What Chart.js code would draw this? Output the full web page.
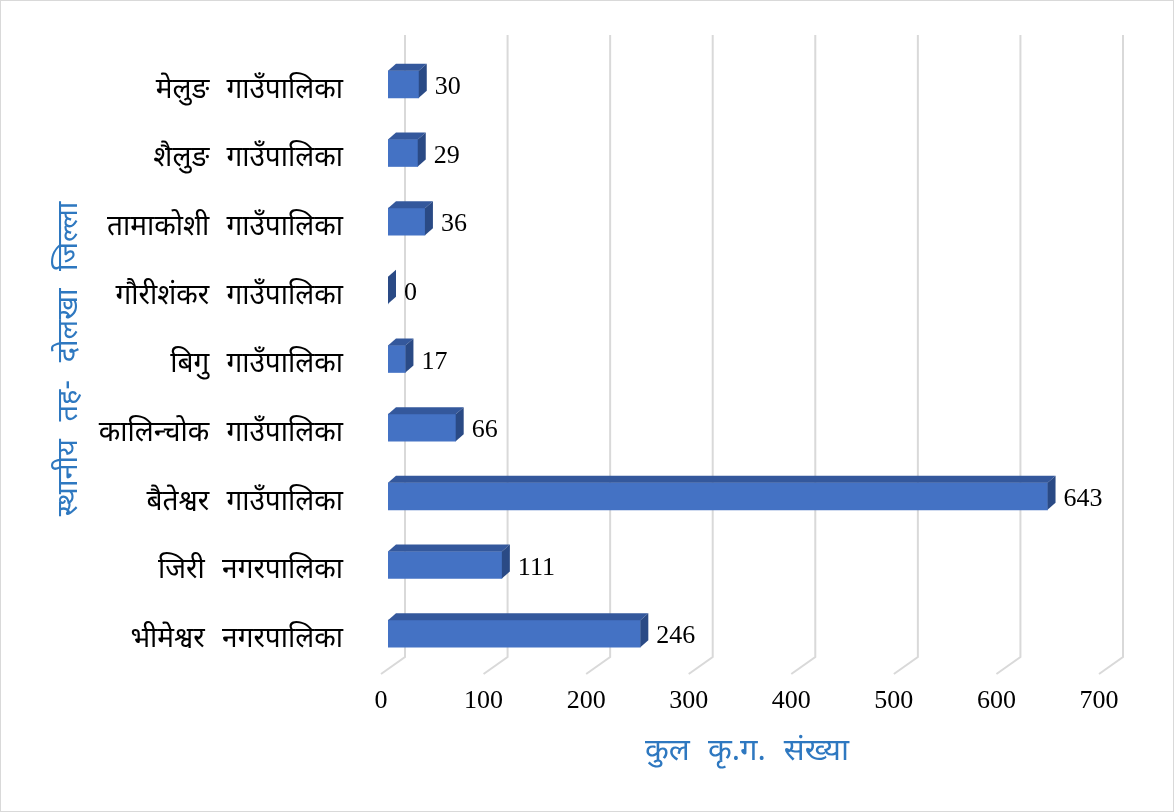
<!DOCTYPE html>
<html lang="ne">
<head>
<meta charset="utf-8">
<title>दोलखा जिल्ला - कुल कृ.ग. संख्या</title>
<script src="https://cdn.jsdelivr.net/npm/chart.js@4.4.1/dist/chart.umd.min.js"></script>
<style>
  html, body { margin: 0; padding: 0; background: #fff; }
  #wrap { position: relative; width: 1174px; height: 812px; }
</style>
</head>
<body>
<div id="wrap"><canvas id="chart"></canvas></div>
<script>
// data, top to bottom as in the picture
const categories = [
  'मेलुङ गाउँपालिका',
  'शैलुङ गाउँपालिका',
  'तामाकोशी गाउँपालिका',
  'गौरीशंकर गाउँपालिका',
  'बिगु गाउँपालिका',
  'कालिन्चोक गाउँपालिका',
  'बैतेश्वर गाउँपालिका',
  'जिरी नगरपालिका',
  'भीमेश्वर नगरपालिका',
];
const values = [30, 29, 36, 0, 17, 66, 643, 111, 246];
const xTicks = [0, 100, 200, 300, 400, 500, 600, 700];

const xTitle = 'कुल कृ.ग. संख्या';
const yTitle = 'स्थानीय तह- दोलखा जिल्ला';

const DEVA = "'Noto Sans Devanagari', 'Lohit Devanagari', 'Noto Sans', sans-serif";
const SERIF = "'Liberation Serif', 'Times New Roman', serif";
const TITLE_BLUE = '#2e78c0';
const FRONT = '#4472c4';
const TOP = '#34589c';
const SIDE = '#2a4a85';
const GRID = '#d9d9d9';
const DEPTH = { dx: 8, dy: 7 };

// white card with thin grey border; wider word gaps like the original font
const background = {
  id: 'background',
  beforeDraw(chart) {
    const { ctx, width, height } = chart;
    ctx.wordSpacing = '10px';
    ctx.save();
    ctx.fillStyle = '#fff';
    ctx.fillRect(0, 0, width, height);
    ctx.strokeStyle = '#d9d9d9';
    ctx.lineWidth = 1;
    ctx.strokeRect(0.5, 0.5, width - 1, height - 1);
    ctx.restore();
  }
};

// 3d-ish gridlines: back wall line + floor diagonal
const grid3d = {
  id: 'grid3d',
  beforeDatasetsDraw(chart) {
    const { ctx, scales: { x } } = chart;
    ctx.save();
    ctx.strokeStyle = GRID;
    ctx.lineWidth = 2;
    xTicks.forEach(v => {
      const px = x.getPixelForValue(v);
      ctx.beginPath();
      ctx.moveTo(px + 17, 35);
      ctx.lineTo(px + 17, 657);
      ctx.lineTo(px - 7, 674);
      ctx.stroke();
    });
    ctx.restore();
  }
};

// top + side faces of each bar, then the value label
const bars3d = {
  id: 'bars3d',
  afterDatasetsDraw(chart) {
    const { ctx } = chart;
    const meta = chart.getDatasetMeta(0);
    const { dx, dy } = DEPTH;
    ctx.save();
    meta.data.forEach((bar, i) => {
      const { x, y, base, height } = bar.getProps(['x', 'y', 'base', 'height'], true);
      const top = y - height / 2;
      const bottom = y + height / 2;

      ctx.fillStyle = TOP;
      ctx.beginPath();
      ctx.moveTo(base, top);
      ctx.lineTo(base + dx, top - dy);
      ctx.lineTo(x + dx, top - dy);
      ctx.lineTo(x, top);
      ctx.closePath();
      ctx.fill();

      ctx.fillStyle = SIDE;
      ctx.beginPath();
      ctx.moveTo(x, top);
      ctx.lineTo(x + dx, top - dy);
      ctx.lineTo(x + dx, bottom - dy);
      ctx.lineTo(x, bottom);
      ctx.closePath();
      ctx.fill();

      ctx.fillStyle = '#000';
      ctx.font = `26px ${SERIF}`;
      ctx.textAlign = 'left';
      ctx.textBaseline = 'middle';
      ctx.fillText(String(values[i]), x + dx + 8, y + 3);
    });
    ctx.restore();
  }
};

new Chart(document.getElementById('chart'), {
  type: 'bar',
  data: {
    labels: categories,
    datasets: [{
      data: values,
      backgroundColor: FRONT,
      borderWidth: 0,
      barThickness: 27,
    }]
  },
  options: {
    indexAxis: 'y',
    responsive: true,
    maintainAspectRatio: false,
    animation: false,
    layout: { padding: { top: 50, right: 68, left: 50, bottom: 0 } },
    plugins: {
      legend: { display: false },
      tooltip: { enabled: false },
    },
    scales: {
      x: {
        min: 0,
        max: 700,
        afterBuildTicks: s => { s.ticks = xTicks.map(v => ({ value: v })); },
        afterFit: s => {
          s.height = 144;
          s.paddingLeft = 0;
          s.paddingRight = 0;
        },
        grid: { display: false, drawTicks: false },
        border: { display: false },
        ticks: {
          padding: 18,
          labelOffset: -7,
          color: '#000',
          font: { family: SERIF, size: 26 },
        },
        title: {
          display: true,
          text: xTitle,
          color: TITLE_BLUE,
          font: { family: DEVA, size: 31 },
          padding: { top: 4, bottom: 39 },
        },
      },
      y: {
        afterFit: s => {
          s.width = 338;
          s.paddingTop = 0;
          s.paddingBottom = 0;
        },
        grid: { display: false, drawTicks: false },
        border: { display: false },
        ticks: {
          padding: 45,
          labelOffset: 8,
          color: '#000',
          font: { family: DEVA, size: 28 },
        },
        title: {
          display: true,
          text: yTitle,
          color: TITLE_BLUE,
          font: { family: DEVA, size: 29 },
          padding: { top: 4, bottom: 4 },
        },
      },
    },
  },
  plugins: [background, grid3d, bars3d],
});
</script>
</body>
</html>
